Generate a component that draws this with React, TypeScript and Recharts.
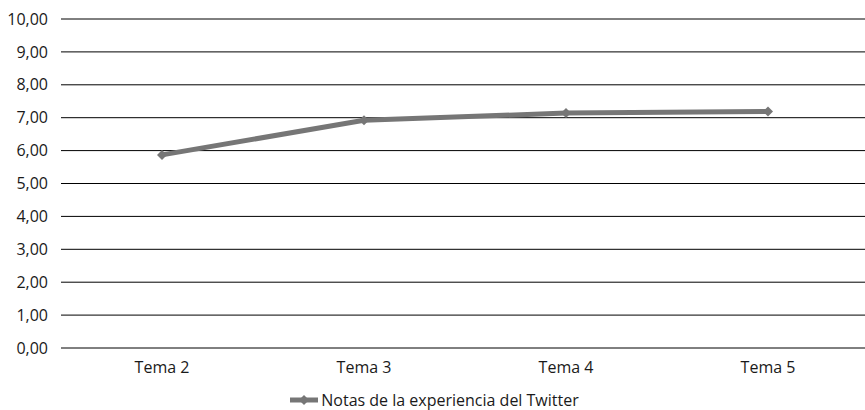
import React from "react"
import { LineChart, Line, XAxis, YAxis, CartesianGrid, Legend } from "recharts"

const categories = ["Tema 2", "Tema 3", "Tema 4", "Tema 5"]
const notas = [5.87, 6.92, 7.14, 7.19]
const yTicks = [0, 1, 2, 3, 4, 5, 6, 7, 8, 9, 10]

const SERIES_NAME = "Notas de la experiencia del Twitter"
const LINE_COLOR = "#767676"
const FONT = "'Open Sans', sans-serif"

const data = categories.map((c, i) => ({ name: c, notas: notas[i] }))

const fmt = (v: number) => v.toFixed(2).replace(".", ",")

function Diamond(props: any) {
  const { cx, cy, index } = props
  if (cx == null || cy == null) return null
  const r = 5
  return (
    <path
      key={`d-${index}`}
      d={`M${cx},${cy - r} L${cx + r},${cy} L${cx},${cy + r} L${cx - r},${cy} Z`}
      fill={LINE_COLOR}
    />
  )
}

function LegendContent() {
  return (
    <div
      style={{
        height: 30,
        boxSizing: "border-box",
        paddingTop: 9,
        display: "flex",
        alignItems: "center",
        justifyContent: "center",
        fontFamily: FONT,
        fontSize: 16,
        color: "#1a1a1a",
      }}
    >
      <svg width={28} height={12} style={{ marginRight: 3 }}>
        <line x1={0} y1={6} x2={28} y2={6} stroke={LINE_COLOR} strokeWidth={5} />
        <path d="M14,1 L19,6 L14,11 L9,6 Z" fill={LINE_COLOR} />
      </svg>
      <span>{SERIES_NAME}</span>
    </div>
  )
}

export default function App() {
  return (
    <div style={{ position: "absolute", left: 0, top: 0, width: 865, height: 410, background: "#fff" }}>
      <LineChart
        width={865}
        height={410}
        data={data}
        margin={{ top: 19, right: -4, bottom: 0, left: 0 }}
      >
        <CartesianGrid horizontal vertical={false} stroke="#000" strokeOpacity={1} />
        <XAxis
          dataKey="name"
          axisLine={false}
          tickLine={false}
          height={32}
          tickMargin={8}
          padding={{ left: 101, right: 101 }}
          tick={{ fill: "#1a1a1a", fontSize: 16, fontFamily: FONT }}
        />
        <YAxis
          domain={[0, 10]}
          ticks={yTicks}
          tickFormatter={fmt}
          axisLine={false}
          tickLine={false}
          width={61}
          tickSize={0}
          tickMargin={13}
          tick={{ fill: "#1a1a1a", fontSize: 16, fontFamily: FONT }}
        />
        <Legend verticalAlign="bottom" content={<LegendContent />} />
        <Line
          type="linear"
          dataKey="notas"
          name={SERIES_NAME}
          stroke={LINE_COLOR}
          strokeWidth={5}
          dot={Diamond}
          activeDot={false}
          isAnimationActive={false}
        />
      </LineChart>
    </div>
  )
}
